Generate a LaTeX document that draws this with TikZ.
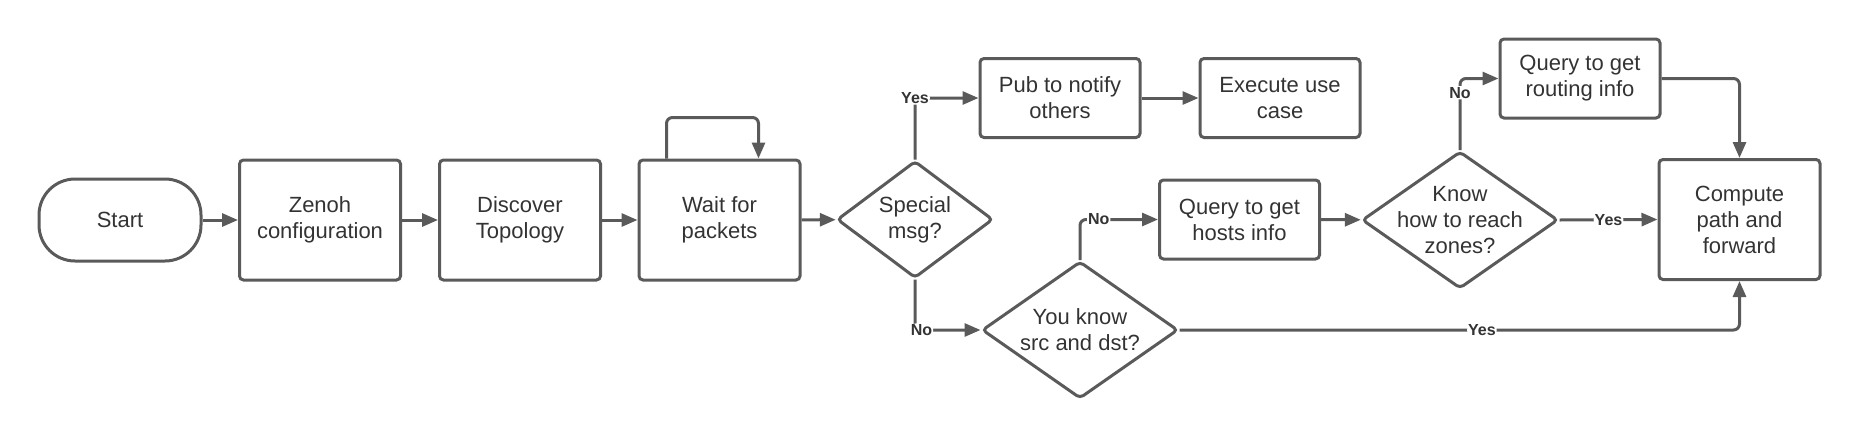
\documentclass[tikz,border=0pt]{standalone}
\usepackage{fontspec}
\setmainfont{Liberation Sans}
\usetikzlibrary{shapes.geometric,arrows.meta}
\definecolor{linegray}{HTML}{5A5A5A}
\definecolor{textgray}{HTML}{333333}

\begin{document}
\begin{tikzpicture}[x=0.5pt, y=-0.5pt,
    font=\fontsize{11pt}{13pt}\selectfont, text=textgray,
    box/.style={draw=linegray, line width=1.5pt, rounded corners=2pt, align=center, inner sep=0pt},
    bigbox/.style={box, minimum width=80.5pt, minimum height=60pt},
    smallbox/.style={box, minimum width=80pt, minimum height=39.5pt},
    decision/.style={draw=linegray, line width=1.5pt, diamond, rounded corners=2pt, inner sep=0pt,
        minimum width=98pt, minimum height=68.5pt},
    conn/.style={draw=linegray, line width=1.5pt, rounded corners=3pt, -{Triangle[length=8pt,width=6.5pt]}},
    lbl/.style={font=\bfseries\fontsize{8pt}{9pt}\selectfont, fill=white, inner sep=0.5pt}]
    \useasboundingbox (0,0) rectangle (1860,440);

    \node[box, rounded corners=18pt, minimum width=81pt, minimum height=41pt] (start) at (120,220) {Start};
    \node[bigbox] (zenoh) at (320,220) {Zenoh\\configuration};
    \node[bigbox] (discover) at (520,220) {Discover\\Topology};
    \node[bigbox] (wait) at (719.5,220) {Wait for\\packets};
    \node[decision, minimum width=78pt, minimum height=58.5pt,
        label={[align=center]center:Special\\msg?}] (special) at (915,219.5) {};
    \node[smallbox] (pub) at (1060,98) {Pub to notify\\others};
    \node[smallbox] (execute) at (1280,98) {Execute use\\case};
    \node[decision, label={[align=center]center:You know\\src and dst?}] (youknow) at (1080,330) {};
    \node[smallbox] (hosts) at (1239.5,219.5) {Query to get\\hosts info};
    \node[decision, label={[align=center]center:Know\\how to reach\\zones?}] (know) at (1460,220) {};
    \node[smallbox] (routing) at (1580,78.5) {Query to get\\routing info};
    \node[bigbox] (compute) at (1739.5,219.5) {Compute\\path and\\forward};

    \draw[conn] (start) -- (zenoh);
    \draw[conn] (zenoh) -- (discover);
    \draw[conn] (discover) -- (wait);
    \draw[conn] ([xshift=14.5pt]wait.north west) -- ++(0pt,20.5pt) -| ([xshift=-21.5pt]wait.north east);
    \draw[conn] (wait) -- (special);
    \draw[conn] (special.north) |- node[lbl, pos=0.5] {Yes} (pub.west);
    \draw[conn] (pub) -- (execute);
    \draw[conn] (special.south) |- node[lbl, pos=0.55] {No} (youknow.west);
    \draw[conn] (youknow.north) |- node[lbl, pos=0.62] {No} (hosts.west);
    \draw[conn] (hosts) -- (know);
    \draw[conn] (know.east) -- node[lbl] {Yes} (compute.west);
    \draw[conn] (know.north) |- node[lbl, pos=0.4] {No} (routing.west);
    \draw[conn] (routing.east) -| (compute.north);
    \draw[conn] (youknow.east) -| node[lbl, pos=0.27] {Yes} (compute.south);
\end{tikzpicture}
\end{document}
